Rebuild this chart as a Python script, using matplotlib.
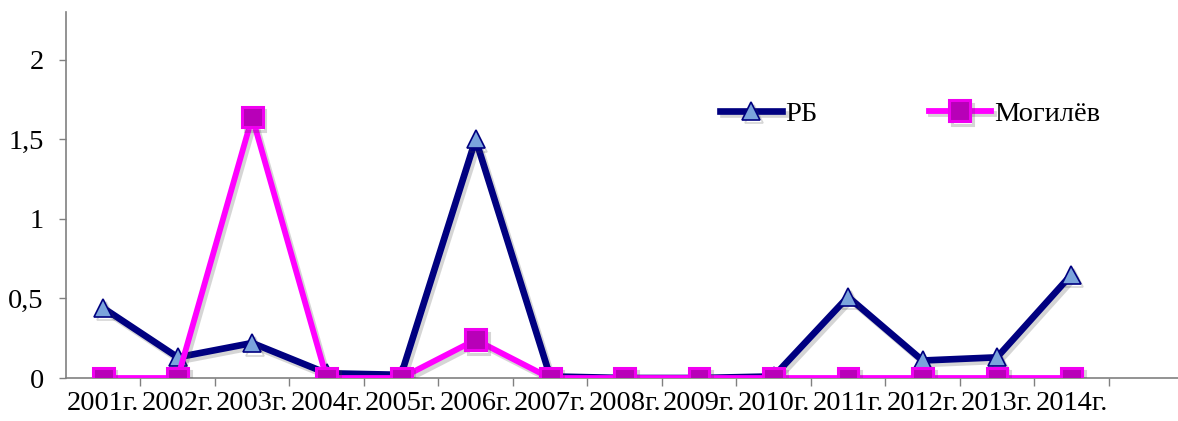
import matplotlib.pyplot as plt
import matplotlib.patheffects as pe
import numpy as np

years = ["2001г.", "2002г.", "2003г.", "2004г.", "2005г.", "2006г.", "2007г.",
         "2008г.", "2009г.", "2010г.", "2011г.", "2012г.", "2013г.", "2014г."]
rb = [0.44, 0.13, 0.22, 0.03, 0.02, 1.50, 0.01, 0.0, 0.0, 0.01, 0.51, 0.11, 0.13, 0.65]
mogilev = [0.0, 0.0, 1.64, 0.0, 0.0, 0.24, 0.0, 0.0, 0.0, 0.0, 0.0, 0.0, 0.0, 0.0]
y_ticks = [0, 0.5, 1, 1.5, 2]
y_labels = ["0", "0,5", "1", "1,5", "2"]

plt.rcParams["font.family"] = ["Liberation Serif", "DejaVu Serif"]

fig = plt.figure(figsize=(11.78, 4.21), dpi=100)
ax = fig.add_axes([0.056, 0.1021, 0.944, 0.8694])

x = np.arange(len(years))
shadow = [pe.SimpleLineShadow(offset=(2, -2.5), shadow_color="#444444", alpha=0.22), pe.Normal()]

ax.plot(x, rb, color="#000080", lw=4.8, marker="^", markersize=13,
        markerfacecolor="#7BA4DC", markeredgecolor="#000080", markeredgewidth=1.2,
        label="РБ", path_effects=shadow, zorder=3)
ax.plot(x, mogilev, color="#FF00FF", lw=4.2, marker="s", markersize=15,
        markerfacecolor="#B800B8", markeredgecolor="#F000F0", markeredgewidth=2.2,
        label="Могилёв", path_effects=shadow, zorder=4)

ax.set_xlim(-0.5, 14.43)
ax.set_ylim(0, 2.3)
ax.set_yticks(y_ticks)
ax.set_yticklabels(y_labels)
ax.set_xticks(x)
ax.set_xticklabels(years)
ax.set_xticks(np.arange(0.5, 14.5, 1), minor=True)

ax.tick_params(axis="y", direction="out", length=5, width=1, color="#808080",
               labelsize=20.5, pad=11)
ax.tick_params(axis="x", which="major", length=0, labelsize=20.5, pad=9)
ax.tick_params(axis="x", which="minor", direction="out", length=6, width=1, color="#808080")

for side in ["top", "right"]:
    ax.spines[side].set_visible(False)
for side in ["left", "bottom"]:
    ax.spines[side].set_color("#808080")
    ax.spines[side].set_linewidth(1.2)

ax.legend(loc="center", bbox_to_anchor=(0.759, 0.722), ncol=2, frameon=False,
          fontsize=20.5, handlelength=2.2, handletextpad=0.1, columnspacing=3.9)

fig.savefig("out.png", dpi=100)
